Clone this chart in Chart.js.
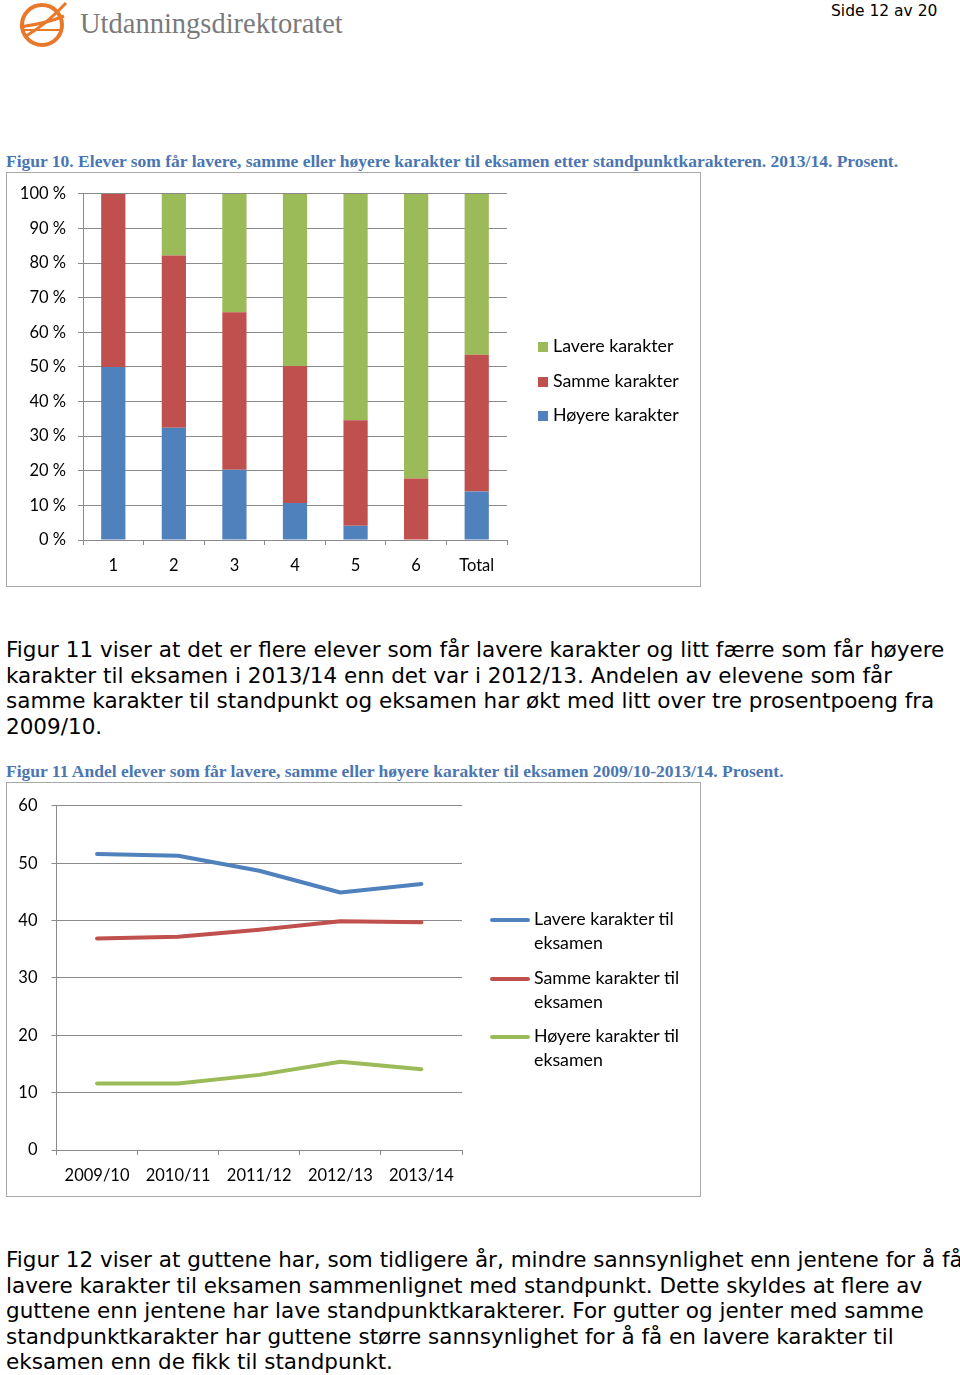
<!DOCTYPE html>
<html>
<head>
<meta charset="utf-8">
<script src="https://cdn.jsdelivr.net/npm/chart.js@4.4.0/dist/chart.umd.min.js"></script>
<style>
  html, body { margin: 0; padding: 0; background: #fff; }
  body { width: 960px; height: 1375px; position: relative; overflow: hidden; }
  .abs { position: absolute; }
  .brand { left: 80px; top: 8px; font-family: "Liberation Serif", serif; font-size: 28.5px; color: #7a7a7a; white-space: nowrap; }
  .page { left: 831px; top: 2px; font-family: "DejaVu Sans", sans-serif; font-size: 15.5px; color: #000; }
  .caption { left: 6px; font-family: "Liberation Serif", serif; font-weight: bold; font-size: 17.5px; color: #4a76b2; white-space: nowrap; }
  .box { border: 1.5px solid #a8a8a8; box-sizing: border-box; }
  .box canvas { position: absolute; left: 0; top: 0; }
  .body-text { left: 6px; font-family: "DejaVu Sans", sans-serif; font-size: 21.5px; line-height: 25.6px; color: #000; white-space: nowrap; }
  .leg { font-family: Lato, sans-serif; font-size: 17.8px; color: #000; white-space: nowrap; }
  .sq { display: inline-block; width: 10px; height: 10px; margin-right: 5px; vertical-align: 0px; }
  .ln { position: absolute; width: 40px; height: 4px; border-radius: 2px; }
</style>
</head>
<body>

<svg class="abs" style="left:14px;top:0px" width="60" height="52" viewBox="0 0 60 52">
  <circle cx="28" cy="25" r="20" fill="none" stroke="#e8782a" stroke-width="4"/>
  <path d="M6 27 C 20 25, 36 22, 50 16" fill="none" stroke="#e8782a" stroke-width="3"/>
  <path d="M12 36 C 26 28, 40 16, 52 3" fill="none" stroke="#e8782a" stroke-width="3"/>
  <path d="M8 30 L 47 30" fill="none" stroke="#e8782a" stroke-width="2"/>
</svg>
<div class="abs brand">Utdanningsdirektoratet</div>
<div class="abs page">Side 12 av 20</div>

<div class="abs caption" style="top:151px">Figur 10. Elever som får lavere, samme eller høyere karakter til eksamen etter standpunktkarakteren. 2013/14. Prosent.</div>

<div class="abs box" style="left:6px;top:172px;width:695px;height:415px">
  <canvas id="barChart" width="695" height="415" style="left:-1.5px;top:-1.5px"></canvas>
  <div class="abs leg" style="left:531px;top:161px"><span class="sq" style="background:#9bbb59"></span>Lavere karakter</div>
  <div class="abs leg" style="left:531px;top:196px"><span class="sq" style="background:#c0504d"></span>Samme karakter</div>
  <div class="abs leg" style="left:531px;top:230px"><span class="sq" style="background:#4f81bd"></span>Høyere karakter</div>
</div>

<div class="abs body-text" style="top:637px">
  Figur 11 viser at det er flere elever som får lavere karakter og litt færre som får høyere<br>
  karakter til eksamen i 2013/14 enn det var i 2012/13. Andelen av elevene som får<br>
  samme karakter til standpunkt og eksamen har økt med litt over tre prosentpoeng fra<br>
  2009/10.
</div>

<div class="abs caption" style="top:761px">Figur 11 Andel elever som får lavere, samme eller høyere karakter til eksamen 2009/10-2013/14. Prosent.</div>

<div class="abs box" style="left:6px;top:782px;width:695px;height:415px">
  <canvas id="lineChart" width="695" height="415" style="left:-1.5px;top:-1.5px"></canvas>
  <div class="abs" style="left:483px;top:123px">
    <div class="ln" style="left:0;top:12px;background:#4f81bd"></div>
    <div class="leg" style="margin-left:44px;line-height:24px">Lavere karakter til<br>eksamen</div>
  </div>
  <div class="abs" style="left:483px;top:182px">
    <div class="ln" style="left:0;top:12px;background:#c0504d"></div>
    <div class="leg" style="margin-left:44px;line-height:24px">Samme karakter til<br>eksamen</div>
  </div>
  <div class="abs" style="left:483px;top:240px">
    <div class="ln" style="left:0;top:12px;background:#9bbb59"></div>
    <div class="leg" style="margin-left:44px;line-height:24px">Høyere karakter til<br>eksamen</div>
  </div>
</div>

<div class="abs body-text" style="top:1247px">
  Figur 12 viser at guttene har, som tidligere år, mindre sannsynlighet enn jentene for å få<br>
  lavere karakter til eksamen sammenlignet med standpunkt. Dette skyldes at flere av<br>
  guttene enn jentene har lave standpunktkarakterer. For gutter og jenter med samme<br>
  standpunktkarakter har guttene større sannsynlighet for å få en lavere karakter til<br>
  eksamen enn de fikk til standpunkt.
</div>

<script>
// Figur 10: andel per standpunktkarakter (prosent)
var grades = ["1", "2", "3", "4", "5", "6", "Total"];
var hoyere = [50.0, 32.4, 20.3, 10.7, 4.1, 0.0, 14.0];
var samme = [50.0, 49.8, 45.5, 39.6, 30.5, 17.8, 39.5];
var lavere = [0.0, 17.8, 34.2, 49.7, 65.4, 82.2, 46.5];

// Figur 11: utvikling 2009/10-2013/14 (prosent)
var years = ["2009/10", "2010/11", "2011/12", "2012/13", "2013/14"];
var laverePct = [51.6, 51.3, 48.7, 44.9, 46.4];
var sammePct = [36.9, 37.2, 38.4, 39.9, 39.7];
var hoyerePct = [11.6, 11.6, 13.1, 15.4, 14.1];

var BLUE = "#4f81bd", RED = "#c0504d", GREEN = "#9bbb59", GRID = "#8a8a8a";
var tickFont = { family: "Lato", size: 16.5 };

Chart.defaults.font.family = "Lato";
Chart.defaults.color = "#000";

new Chart(document.getElementById("barChart").getContext("2d"), {
  type: "bar",
  data: {
    labels: grades,
    datasets: [
      { label: "Høyere karakter", data: hoyere, backgroundColor: BLUE },
      { label: "Samme karakter", data: samme, backgroundColor: RED },
      { label: "Lavere karakter", data: lavere, backgroundColor: GREEN }
    ]
  },
  options: {
    responsive: false,
    animation: false,
    barPercentage: 0.4,
    categoryPercentage: 1,
    layout: { padding: { top: 21, right: 194, left: 0, bottom: 0 } },
    plugins: { legend: { display: false }, tooltip: { enabled: false } },
    scales: {
      x: {
        stacked: true,
        grid: { drawOnChartArea: false, tickLength: 5, color: GRID },
        border: { color: GRID },
        ticks: { font: tickFont, padding: 11 },
        afterFit: function (s) { s.height = 47; }
      },
      y: {
        stacked: true,
        min: 0,
        max: 100,
        grid: { color: GRID, tickLength: 5 },
        border: { color: GRID },
        ticks: {
          stepSize: 10,
          font: tickFont,
          padding: 12,
          callback: function (v) { return v + " %"; }
        },
        afterFit: function (s) { s.width = 77; }
      }
    }
  }
});

function lineSet(label, data, color) {
  return {
    label: label,
    data: data,
    borderColor: color,
    backgroundColor: color,
    borderWidth: 4,
    borderCapStyle: "round",
    borderJoinStyle: "round",
    pointRadius: 0,
    tension: 0,
    fill: false
  };
}

new Chart(document.getElementById("lineChart").getContext("2d"), {
  type: "line",
  data: {
    labels: years,
    datasets: [
      lineSet("Lavere karakter til eksamen", laverePct, BLUE),
      lineSet("Samme karakter til eksamen", sammePct, RED),
      lineSet("Høyere karakter til eksamen", hoyerePct, GREEN)
    ]
  },
  options: {
    responsive: false,
    animation: false,
    layout: { padding: { top: 18, right: 239, left: 0, bottom: 0 } },
    plugins: { legend: { display: false }, tooltip: { enabled: false } },
    scales: {
      x: {
        offset: true,
        grid: { offset: true, drawOnChartArea: false, tickLength: 5, color: GRID },
        border: { color: GRID },
        ticks: { font: tickFont, padding: 11 },
        afterFit: function (s) { s.height = 47; }
      },
      y: {
        min: 0,
        max: 60,
        grid: { color: GRID, tickLength: 5 },
        border: { color: GRID },
        ticks: { stepSize: 10, font: tickFont, padding: 14 },
        afterFit: function (s) { s.width = 50.5; }
      }
    }
  }
});
</script>
</body>
</html>
